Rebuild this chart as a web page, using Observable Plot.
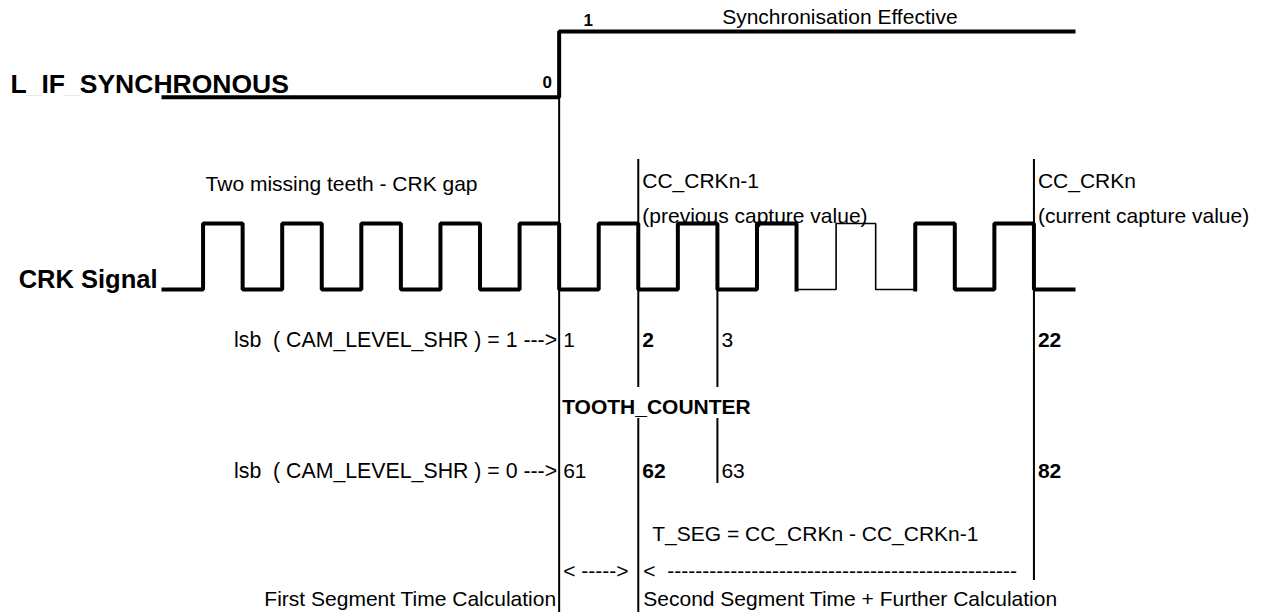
<!DOCTYPE html>
<html><head><meta charset="utf-8">
<script src="https://cdn.jsdelivr.net/npm/d3@7"></script>
<script src="https://cdn.jsdelivr.net/npm/@observablehq/plot@0.6"></script>
<style>
html,body{margin:0;padding:0;background:#fff}
svg text{white-space:pre}
</style>
</head><body><div id="chart"></div>
<script>
// ---- data (time axis in crank-tooth periods: rising edges at integers) ----
const crkRise = [0, 1, 2, 3, 4, 5, 6, 7, 8, 9, 10];
const crkFall = [0.5, 1.5, 2.5, 3.5, 4.5, 5.5, 6.5, 7.5, 8.5, 9.5, 10.5];
const thinTeeth = [8];
const crkSpan = [-0.5, 11];
const syncSpan = [-0.5, 11];
const syncEdge = 4.5;                 // L_IF_SYNCHRONOUS 0 -> 1
const syncLevels = [0, 1];
const captureMarks = [5.5, 10.5];     // CC_CRKn-1 , CC_CRKn
const toothMark = 6.5;                // tooth 3 / 63
const counterAt = [4.5, 5.5, 6.5, 10.5];
const counterRow1 = ["1", "2", "3", "22"];
const counterRow2 = ["61", "62", "63", "82"];
const counterBold = [false, true, false, true];

// ---- layout (pixel rows of the diagram) ----
const W = 1269, H = 612;
const lane = {syncLow: 96.7, syncHigh: 31, crkLow: 289, crkHigh: 223};
const rowY = {n1: 346, tc: 413, n2: 477, gapTop: 387, gapBot: 418, capTop: 159, toothBot: 483, capEnd: 580};

const syncY = v => lane.syncLow - v * (lane.syncLow - lane.syncHigh);
const crkY = v => lane.crkLow - v * (lane.crkLow - lane.crkHigh);

// sync steps
const syncPts = [
  {t: syncSpan[0], v: syncLevels[0]},
  {t: syncEdge, v: syncLevels[1]},
  {t: syncSpan[1], v: syncLevels[1]}
];

// CRK waveform split in thick / thin pieces
const crkPaths = [];
let cur = {thin: false, pts: [{t: crkSpan[0], v: 0}]};
crkRise.forEach((r, i) => {
  const f = crkFall[i];
  const isThin = thinTeeth.includes(r);
  if (isThin !== cur.thin) {
    const last = cur.pts[cur.pts.length - 1];
    crkPaths.push(cur);
    cur = {thin: isThin, pts: [{t: last.t, v: 0}]};
    if (!isThin) { cur.pts = [{t: r, v: 0}]; crkPaths[crkPaths.length-1].pts.push({t: r, v: 0}); }
  }
  cur.pts.push({t: r, v: 1}, {t: f, v: 0});
});
cur.pts.push({t: crkSpan[1], v: 0});
crkPaths.push(cur);
const crkData = crkPaths.flatMap((p, k) => p.pts.map(d => ({...d, id: k, thin: p.thin})));

// vertical marker rules
const rules = [
  {t: syncEdge, y1: lane.syncLow, y2: H},
  {t: captureMarks[0], y1: rowY.capTop, y2: rowY.gapTop},
  {t: captureMarks[0], y1: rowY.gapBot, y2: H},
  {t: toothMark, y1: lane.crkLow, y2: rowY.gapTop},
  {t: toothMark, y1: rowY.gapBot, y2: rowY.toothBot},
  {t: captureMarks[1], y1: rowY.capTop, y2: rowY.capEnd}
];

const dashes = n => "-".repeat(n);
const labels = [
  {text: "L_IF_SYNCHRONOUS", x: null, dx: 10, y: 92, anchor: "start", size: 26.5, bold: true},
  {text: "0", x: syncEdge, dx: -12, y: 87, anchor: "middle", size: 17, bold: true},
  {text: "1", x: syncEdge, dx: 29, y: 25, anchor: "middle", size: 17, bold: true},
  {text: "Synchronisation Effective", x: syncEdge, dx: 163, y: 23, anchor: "start", size: 21},
  {text: "Two missing teeth - CRK gap", x: 1.75, dx: 0, y: 190, anchor: "middle", size: 21},
  {text: "CC_CRKn-1", x: captureMarks[0], dx: 4, y: 187, anchor: "start", size: 21},
  {text: "(previous capture value)", x: captureMarks[0], dx: 4, y: 222, anchor: "start", size: 21},
  {text: "CC_CRKn", x: captureMarks[1], dx: 4, y: 187, anchor: "start", size: 21},
  {text: "(current capture value)", x: captureMarks[1], dx: 4, y: 222, anchor: "start", size: 21},
  {text: "CRK Signal", x: crkSpan[0], dx: -6, y: 287, anchor: "end", size: 25.5, bold: true},
  {text: "lsb  ( CAM_LEVEL_SHR ) = 1 --->", x: syncEdge, dx: -2, y: rowY.n1, anchor: "end", size: 21.3},
  {text: "lsb  ( CAM_LEVEL_SHR ) = 0 --->", x: syncEdge, dx: -2, y: rowY.n2, anchor: "end", size: 21.3},
  {text: "TOOTH_COUNTER", x: syncEdge, dx: 3, y: rowY.tc, anchor: "start", size: 21, bold: true},
  {text: "T_SEG = CC_CRKn - CC_CRKn-1", x: captureMarks[0], dx: 14, y: 540, anchor: "start", size: 21},
  {text: "< ----->", x: syncEdge, dx: 4, y: 577, anchor: "start", size: 21},
  {text: "<  " + dashes(50), x: captureMarks[0], dx: 5, y: 577, anchor: "start", size: 21},
  {text: "First Segment Time Calculation", x: syncEdge, dx: -3, y: 605, anchor: "end", size: 21},
  {text: "Second Segment Time + Further Calculation", x: captureMarks[0], dx: 5, y: 605, anchor: "start", size: 21}
];
counterAt.forEach((t, i) => {
  labels.push({text: counterRow1[i], x: t, dx: 4, y: rowY.n1, anchor: "start", size: 21, bold: counterBold[i]});
  labels.push({text: counterRow2[i], x: t, dx: 4, y: rowY.n2, anchor: "start", size: 21, bold: counterBold[i]});
});

const textMarks = labels.map(l => Plot.text([l], {
  ...(l.x === null ? {frameAnchor: "left"} : {x: "x"}),
  y: "y", text: "text", dx: l.dx, textAnchor: l.anchor, lineAnchor: "bottom",
  fontSize: l.size, fontWeight: l.bold ? "bold" : "normal", fill: "#000"
}));

const chart = Plot.plot({
  width: W, height: H,
  marginLeft: 0, marginRight: 0, marginTop: 0, marginBottom: 0,
  x: {domain: [-0.5, 11], range: [163, 1073], axis: null},
  y: {domain: [0, H], range: [0, H], axis: null},
  style: {fontFamily: "'Liberation Sans', Arial, sans-serif", background: "#fff", overflow: "visible"},
  marks: [
    Plot.ruleX(rules, {x: "t", y1: "y1", y2: "y2", stroke: "#000", strokeWidth: 2}),
    Plot.line(syncPts, {x: "t", y: d => syncY(d.v), curve: "step-after", stroke: "#000", strokeWidth: 4, strokeLinejoin: "miter", strokeLinecap: "square"}),
    Plot.line(crkData.filter(d => !d.thin), {x: "t", y: d => crkY(d.v), z: "id", curve: "step-after", stroke: "#000", strokeWidth: 4, strokeLinejoin: "miter", strokeLinecap: "square"}),
    Plot.line(crkData.filter(d => d.thin), {x: "t", y: d => crkY(d.v), z: "id", curve: "step-after", stroke: "#000", strokeWidth: 1.6, strokeLinejoin: "miter"}),
    ...textMarks
  ]
});
document.getElementById("chart").appendChild(chart);

// faint underscores in the signal name, as in the original
d3.select(chart).selectAll("text").filter(function() { return this.textContent === "L_IF_SYNCHRONOUS"; })
  .each(function() {
    const el = d3.select(this);
    const parts = "L_IF_SYNCHRONOUS".split(/(_)/);
    el.text(null);
    parts.forEach(p => el.append("tspan").attr("fill", p === "_" ? "#e8e8e8" : "#000").text(p));
  });
</script>
</body></html>
